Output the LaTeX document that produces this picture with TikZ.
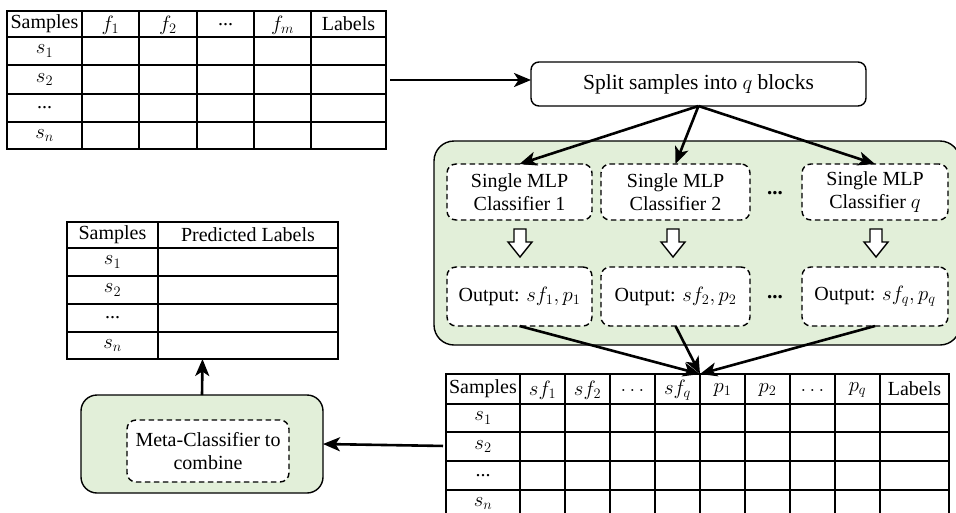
\documentclass[tikz,border=0pt]{standalone}
\usepackage{fontspec}
\setmainfont{Liberation Serif}
\usetikzlibrary{arrows.meta}
\definecolor{lgreen}{HTML}{E2EFD9}
\begin{document}
\begin{tikzpicture}[x=1pt,y=-1pt,
  every node/.style={font=\fontsize{20}{22.5}\selectfont, inner sep=0pt, outer sep=0pt},
  mcell/.style={font=\fontsize{22}{24}\selectfont},
  tablebox/.style={draw, line width=1.6pt},
  gridline/.style={line width=1.6pt},
  greenbox/.style={draw, line width=1.4pt, fill=lgreen, rounded corners=20pt},
  dashbox/.style={draw, line width=1.4pt, fill=white, rounded corners=9pt, dash pattern=on 5.5pt off 3.5pt, align=center},
  conn/.style={line width=2.6pt, -{Stealth[length=17pt,width=14pt,inset=4.5pt]}},
  blockarrow/.style={line width=1.4pt, fill=white, line join=miter},
  dotsnode/.style={font=\fontsize{21}{22}\selectfont\bfseries}
]
\clip (0,0) rectangle (956,512);
\fill[white] (0,0) rectangle (956,512);

% ---------- top-left table ----------
\node[tablebox, minimum width=379, minimum height=138] (T1) at (196.5,80) {};
\foreach \x in {82,139,197,254,311} \draw[gridline] (\x,11) -- (\x,149);
\foreach \y in {37,65,94,122} \draw[gridline] (7,\y) -- (386,\y);
\node (t1h0) at (44.5,24) {Samples};
\node[mcell] (t1h1) at (110.5,25) {$f_1$};
\node[mcell] (t1h2) at (168,25) {$f_2$};
\node (t1h3) at (225.5,25) {...};
\node[mcell] (t1h4) at (282.5,25) {$f_m$};
\node (t1h5) at (348.5,24) {Labels};
\node[mcell] (t1r1) at (44.5,51) {$s_1$};
\node[mcell] (t1r2) at (44.5,79.5) {$s_2$};
\node (t1r3) at (44.5,108) {...};
\node[mcell] (t1r4) at (44.5,135.5) {$s_n$};

% ---------- split node ----------
\node[draw, line width=1.4pt, rounded corners=8pt, minimum width=335, minimum height=44,
      font=\fontsize{21.5}{24}\selectfont] (split) at (698.5,84) {Split samples into $q$ blocks};
\draw[conn, shorten <=4pt] (T1.east) -- (T1.east -| split.west);

% ---------- green ensemble box ----------
\node[greenbox, minimum width=526, minimum height=204] (G) at (697,243) {};

\node[dashbox, minimum width=145, minimum height=56] (C1) at (519.5,192) {Single MLP\\Classifier 1};
\node[dashbox, minimum width=149, minimum height=56] (C2) at (675.5,192) {Single MLP\\Classifier 2};
\node[dashbox, minimum width=146, minimum height=56] (Cq) at (875,192) {Single MLP\\Classifier $q$};
\node[dotsnode] (d1) at (775,193) {...};

\node[dashbox, minimum width=145, minimum height=59] (O1) at (519.5,296.5) {Output: $sf_1, p_1$};
\node[dashbox, minimum width=149, minimum height=59] (O2) at (675.5,296.5) {Output: $sf_2, p_2$};
\node[dashbox, minimum width=146, minimum height=59] (Oq) at (875,296.5) {Output: $sf_q, p_q$};
\node[dotsnode] (d2) at (775,297) {...};

\foreach \x in {520,673,876}
  \draw[blockarrow] (\x-6,229) -- (\x+6,229) -- (\x+6,242) -- (\x+12,242) -- (\x,257) -- (\x-12,242) -- (\x-6,242) -- cycle;

\draw[conn] (split.south) -- (C1.north);
\draw[conn] (split.south) -- (C2.north);
\draw[conn] (split.south) -- (Cq.north);

% ---------- bottom-right table ----------
\node[tablebox, minimum width=503, minimum height=144] (T3) at (697.5,446) {};
\foreach \x in {520,565,610,655,700,745,790,835,880} \draw[gridline] (\x,374) -- (\x,518);
\foreach \y in {404,432,461,490} \draw[gridline] (446,\y) -- (949,\y);
\coordinate (conv) at (700,374);
\node (t3h0) at (483,389) {Samples};
\node[mcell] (t3h1) at (542.5,390) {$sf_1$};
\node[mcell] (t3h2) at (587.5,390) {$sf_2$};
\node (t3h3) at (632.5,390) {$\dots$};
\node[mcell] (t3h4) at (677.5,390) {$sf_q$};
\node[mcell] (t3h5) at (722.5,390) {$p_1$};
\node[mcell] (t3h6) at (767.5,390) {$p_2$};
\node (t3h7) at (812.5,390) {$\dots$};
\node[mcell] (t3h8) at (857.5,390) {$p_q$};
\node (t3h9) at (914.5,389) {Labels};
\node[mcell] (t3r1) at (483,418) {$s_1$};
\node[mcell] (t3r2) at (483,446.5) {$s_2$};
\node (t3r3) at (483,475.5) {...};
\node[mcell] (t3r4) at (483,503.5) {$s_n$};

\draw[conn] (O1.south) -- (conv);
\draw[conn] (O2.south) -- (conv);
\draw[conn] (Oq.south) -- (conv);

% ---------- meta classifier ----------
\node[greenbox, rounded corners=16pt, minimum width=242, minimum height=98] (M) at (202,444) {};
\node[dashbox, minimum width=162, minimum height=62] (MI) at (208,451) {Meta-Classifier to\\combine};
\draw[conn, shorten <=3pt] (T3.west) -- (M.east);

% ---------- bottom-left table ----------
\node[tablebox, minimum width=271, minimum height=137] (T2) at (202.5,290.5) {};
\draw[gridline] (158,222) -- (158,359);
\foreach \y in {248,276,304,332} \draw[gridline] (67,\y) -- (338,\y);
\node (t2h0) at (112.5,235) {Samples};
\node (t2h1) at (248,235) {Predicted Labels};
\node[mcell] (t2r1) at (112.5,262) {$s_1$};
\node[mcell] (t2r2) at (112.5,290) {$s_2$};
\node (t2r3) at (112.5,318) {...};
\node[mcell] (t2r4) at (112.5,345.5) {$s_n$};

\draw[conn] (M.north) -- (T2.south);
\end{tikzpicture}
\end{document}
